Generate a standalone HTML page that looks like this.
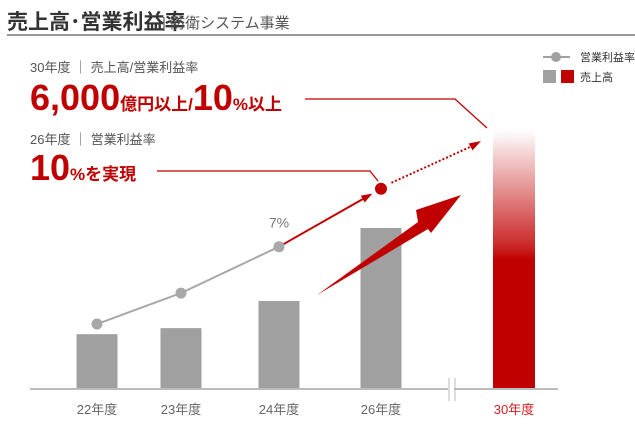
<!DOCTYPE html>
<html><head><meta charset="utf-8"><style>
body{margin:0;width:635px;height:425px;background:#fff;overflow:hidden;font-family:"Liberation Sans","Noto Sans CJK JP",sans-serif;}
svg{display:block}
</style></head><body>
<svg id="chart" width="635" height="425" font-family="'Liberation Sans','Noto Sans CJK JP',sans-serif">
<defs><linearGradient id="g30" x1="0" y1="0" x2="0" y2="1"><stop offset="0" stop-color="#c00000" stop-opacity="0"/><stop offset="0.45" stop-color="#c00000" stop-opacity="0.85"/><stop offset="0.5" stop-color="#c00000"/><stop offset="1" stop-color="#c00000"/></linearGradient></defs>
<text x="7" y="29" font-size="21" font-weight="bold" fill="#333">売上高･営業利益率</text>
<text x="162" y="28" font-size="15" fill="#555">| 防衛システム事業</text>
<line x1="7" y1="35" x2="635" y2="35" stroke="#777" stroke-width="1.5"/>
<g>
<line x1="543" y1="57" x2="570" y2="57" stroke="#a0a0a0" stroke-width="2"/><circle cx="556" cy="57" r="5" fill="#a0a0a0"/>
<text x="580" y="61" font-size="11" fill="#333">営業利益率</text>
<rect x="543" y="70" width="13" height="13" fill="#a0a0a0"/><rect x="561" y="70" width="13" height="13" fill="#c00000"/>
<text x="580" y="81" font-size="11" fill="#333">売上高</text>
</g>
<text x="30" y="72" font-size="13" fill="#555">30年度 ｜ 売上高/営業利益率</text>
<text x="30" y="110" fill="#c00000" font-weight="bold"><tspan font-size="36">6,000</tspan><tspan font-size="17">億円以上/</tspan><tspan font-size="36">10</tspan><tspan font-size="17">%以上</tspan></text>
<polyline points="305,99 455,99 487,128" fill="none" stroke="#c00000" stroke-width="1.3"/>
<text x="30" y="144" font-size="13" fill="#555">26年度 ｜ 営業利益率</text>
<text x="30" y="180" fill="#c00000" font-weight="bold"><tspan font-size="36">10</tspan><tspan font-size="17">%を実現</tspan></text>
<polyline points="157,171 370,171 378,181" fill="none" stroke="#c00000" stroke-width="1.3"/>
<g id="bars"></g>
<g>
<line x1="30" y1="389" x2="448" y2="389" stroke="#bbb" stroke-width="2"/>
<line x1="454" y1="389" x2="558" y2="389" stroke="#bbb" stroke-width="2"/>
<line x1="449" y1="378" x2="449" y2="401" stroke="#bbb" stroke-width="1"/>
<line x1="455" y1="378" x2="455" y2="401" stroke="#bbb" stroke-width="1"/>
</g>
<g id="line"></g>
<g id="labels"></g>
<polygon points="317,295 418,222 416,210 461,195 431,233 428,229" fill="#c00000"/>
</svg>
<script>
const categories=["22年度","23年度","24年度","26年度","30年度"];
const sales=[1270,1410,2040,3730,6000];
const margin=[3.0,4.6,7.0,10.0];
const marginLabels=["","","7%",""];
const NS="http://www.w3.org/2000/svg";
const svg=document.getElementById('chart');
function xScale(i){const c=[97,181,279,381,514];return c[i];}
function ySales(v){return 389-v*259/6000;}
function yMargin(v){return 382-v*19.33;}
function mk(t,a,p){const e=document.createElementNS(NS,t);for(const k in a)e.setAttribute(k,a[k]);p.appendChild(e);return e;}
const gb=document.getElementById('bars'),gl=document.getElementById('line'),gt=document.getElementById('labels');
sales.forEach((v,i)=>{
  const w=i==4?42:41;
  const r=mk('rect',{x:xScale(i)-w/2,y:ySales(v),width:w,height:389-ySales(v),fill:i==4?'url(#g30)':'#a0a0a0'},gb);
  
  
  const t=mk('text',{x:xScale(i),y:414,'font-size':13,'text-anchor':'middle',fill:i==4?'#d42020':'#666'},gt);
  t.textContent=categories[i];
  
  
});
const n=margin.length;
for(let i=0;i<n-2;i++){
  const l=mk('line',{x1:xScale(i),y1:yMargin(margin[i]),x2:xScale(i+1),y2:yMargin(margin[i+1]),stroke:'#a8a8a8','stroke-width':2},gl);
  
  
}
// red arrow from last grey point to red point
{const x1=xScale(n-2),y1=yMargin(margin[n-2]),x2=xScale(n-1),y2=yMargin(margin[n-1]);
 const dx=x2-x1,dy=y2-y1,L=Math.hypot(dx,dy),ux=dx/L,uy=dy/L;
 const ex=x2-ux*10,ey=y2-uy*10;
 const l=mk('line',{x1:x1,y1:y1,x2:ex-ux*6,y2:ey-uy*6,stroke:'#c00000','stroke-width':2},gl);
 
 
 const h=mk('polygon',{points:`${ex},${ey} ${ex-ux*11-uy*4},${ey-uy*11+ux*4} ${ex-ux*11+uy*4},${ey-uy*11-ux*4}`,fill:'#c00000'},gl);
 
 
 // dotted projection
 const px=x2+ux*12,py=y2+uy*12,qx=481,qy=141;
 const d=mk('line',{x1:px,y1:py,x2:qx-ux*10,y2:qy-uy*10,stroke:'#c00000','stroke-width':2,'stroke-dasharray':'2,2'},gl);
 
 
 const dh=mk('polygon',{points:`${qx},${qy} ${qx-ux*12-uy*4},${qy-uy*12+ux*4} ${qx-ux*12+uy*4},${qy-uy*12-ux*4}`,fill:'#c00000'},gl);
 
 
}
margin.forEach((v,i)=>{
  const c=mk('circle',{cx:xScale(i),cy:yMargin(v),r:i==n-1?6:5.5,fill:i==n-1?'#c00000':'#a8a8a8'},gl);
  
  
  if(marginLabels[i]){
    const t=mk('text',{x:xScale(i),y:yMargin(v)-19,'font-size':14,'text-anchor':'middle',fill:'#777'},gt);
    t.textContent=marginLabels[i];
    
    
  }
});
</script>
</body></html>
